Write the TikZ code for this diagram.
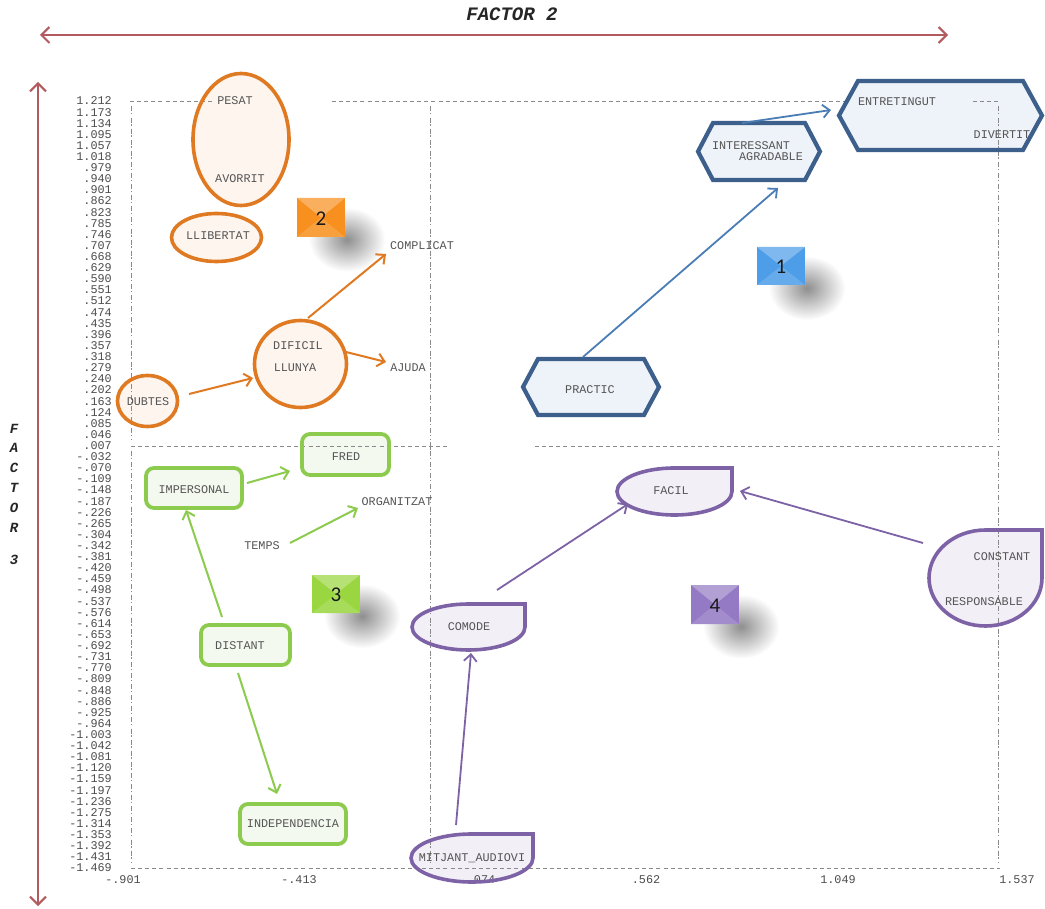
\documentclass[tikz,border=0pt]{standalone}
\usepackage{fontspec}
\setmonofont{Liberation Mono}
\newfontfamily\badgefont{Carlito}
\usetikzlibrary{arrows.meta,fadings}

\definecolor{axisred}{HTML}{B35A5E}
\definecolor{orgline}{HTML}{E07A22}
\definecolor{orgfill}{HTML}{FDF5EE}
\definecolor{orgbadge}{HTML}{F7901E}
\definecolor{bluline}{HTML}{3D5F8C}
\definecolor{blulink}{HTML}{4A7DB5}
\definecolor{blufill}{HTML}{EEF2F9}
\definecolor{blubadge}{HTML}{4D9DE8}
\definecolor{grnline}{HTML}{8DCB4E}
\definecolor{grnfill}{HTML}{F3F9EE}
\definecolor{grnbadge}{HTML}{99D63F}
\definecolor{purline}{HTML}{7D62A6}
\definecolor{purfill}{HTML}{F2EFF7}
\definecolor{purbadge}{HTML}{9479C4}
\definecolor{plotgray}{HTML}{555555}
\definecolor{gridgray}{HTML}{8A8A8A}

\tikzfading[name=softspot, inner color=transparent!20, outer color=transparent!100]

% hexagon: style, x1, y1, x2, y2, chamfer
\newcommand\hexshape[6]{%
  \pgfmathsetmacro\hcy{(#3+#5)/2}%
  \path[#1] (#2,\hcy) -- (#2+#6,#3) -- (#4-#6,#3) -- (#4,\hcy)
            -- (#4-#6,#5) -- (#2+#6,#5) -- cycle;}

% teardrop with a square top-right corner: style, x1, y1, x2, y2
\newcommand\tearshape[5]{%
  \pgfmathsetmacro\tcx{(#2+#4)/2}%
  \pgfmathsetmacro\tcy{(#3+#5)/2}%
  \pgfmathsetmacro\tkx{0.5523*(#4-#2)/2}%
  \pgfmathsetmacro\tky{0.5523*(#5-#3)/2}%
  \path[#1] (\tcx,#3) -- (#4,#3) -- (#4,\tcy)
     .. controls (#4,\tcy+\tky) and (\tcx+\tkx,#5) .. (\tcx,#5)
     .. controls (\tcx-\tkx,#5) and (#2,\tcy+\tky) .. (#2,\tcy)
     .. controls (#2,\tcy-\tky) and (\tcx-\tkx,#3) .. (\tcx,#3) -- cycle;}

% the four groups of outlines: orange, green, blue, purple styles
\newcommand\groupshapes[4]{%
  \path[#1] (241,139.5) ellipse [x radius=48, y radius=66];
  \path[#1] (216.5,237.5) ellipse [x radius=45, y radius=24];
  \path[#1] (300.5,364) ellipse [x radius=46, y radius=43.5];
  \path[#1] (147.5,401) ellipse [x radius=30, y radius=25.5];
  \path[#2] (302,434) rectangle (389,475);
  \path[#2] (146,468) rectangle (242,508);
  \path[#2] (201,625) rectangle (290,665);
  \path[#2] (240,804) rectangle (346,844);
  \hexshape{#3}{523}{359}{659}{415}{15}
  \hexshape{#3}{698}{123}{820}{180}{15}
  \hexshape{#3}{839}{81}{1042}{150}{19}
  \tearshape{#4}{617}{468}{732}{515}
  \tearshape{#4}{412}{604}{525}{650}
  \tearshape{#4}{929}{530}{1042}{626}
  \tearshape{#4}{411}{834}{533}{882}}

% numbered pyramid tile with a soft shadow: name, x1, y1, x2, y2, colour, number
\newcommand\badgebox[7]{%
  \pgfmathsetmacro\bcx{(#2+#4)/2}%
  \pgfmathsetmacro\bcy{(#3+#5)/2}%
  \fill[black!55, path fading=softspot] (\bcx+26,\bcy+22) ellipse [x radius=38, y radius=32];
  \fill[#6] (#2,#3) rectangle (#4,#5);
  \fill[#6!72!white] (#2,#3) -- (#4,#3) -- (\bcx,\bcy) -- cycle;
  \fill[#6!86!white] (#2,#5) -- (#4,#5) -- (\bcx,\bcy) -- cycle;
  \node[badgetext] (#1) at (\bcx,\bcy+1) {#7};}

\begin{document}
\begin{tikzpicture}[x=1pt, y=-1pt,
  lbl/.style={text=plotgray, inner sep=0pt, font=\ttfamily\fontsize{11.8}{12}\selectfont},
  ticklbl/.style={lbl, text=black!70, anchor=east},
  xticklbl/.style={lbl, text=black!70},
  hdash/.style={draw=gridgray, line width=0.7pt, dash pattern=on 4pt off 3.1pt},
  bang/.style={draw=gridgray, line width=0.9pt, dash pattern=on 5pt off 1.6pt on 1.4pt off 3.1pt},
  axis/.style={draw=axisred, line width=2pt,
    {Straight Barb[length=8pt,width=16pt]}-{Straight Barb[length=8pt,width=16pt]}},
  axistitle/.style={inner sep=0pt, text=black!85, font=\ttfamily\bfseries\itshape\fontsize{14}{14}\selectfont},
  badgetext/.style={inner sep=0pt, text=black!90, font=\badgefont\fontsize{21}{21}\selectfont},
  orgfillst/.style={fill=orgfill},
  grnfillst/.style={fill=grnfill, rounded corners=8pt},
  blufillst/.style={fill=blufill},
  purfillst/.style={fill=purfill},
  orgstroke/.style={draw=orgline, line width=3.6pt},
  grnstroke/.style={draw=grnline, line width=3.8pt, rounded corners=8pt},
  blustroke/.style={draw=bluline, line width=4.2pt, line join=miter},
  purstroke/.style={draw=purline, line width=3.6pt, line join=miter},
  link/.style={line width=2pt, -{Straight Barb[length=7pt,width=13pt]}},
]
\useasboundingbox (0,0) rectangle (1045,909);
\fill[white] (0,0) rectangle (1045,909);

% ---- light fills of the groups, under the text plot
\groupshapes{orgfillst}{grnfillst}{blufillst}{purfillst}

% ---- axes and titles
\node[axistitle, font=\ttfamily\bfseries\itshape\fontsize{19}{19}\selectfont] (f2title) at (512,14) {FACTOR 2};
\coordinate (f2l) at (40,35);
\coordinate (f2r) at (948,35);
\draw[axis] (f2l) -- (f2r);
\coordinate (f3t) at (38,82);
\coordinate (f3b) at (38,906);
\draw[axis] (f3t) -- (f3b);
\foreach \ch/\yy [count=\k] in {F/429,A/448,C/468,T/488,O/508,R/528,3/560}
  \node[axistitle] (f3letter\k) at (14,\yy) {\ch};

% ---- text-plot frame
\draw[hdash] (130,101) -- (213,101);
\draw[hdash] (332,101) -- (848,101);
\draw[hdash] (973,101) -- (1000,101);
\draw[hdash] (131,446) -- (447,446);
\draw[hdash] (535,446) -- (1000,446);
\draw[hdash] (131,868) -- (1000,868);
\foreach \xx in {131,430,998} {
  \draw[bang] (\xx,106.5) -- (\xx,440);
  \draw[bang] (\xx,451) -- (\xx,863);
}
\draw[gridgray, line width=0.8pt] (430,442) -- (430,450);

% ---- vertical scale
\foreach \v [count=\i from 0] in {1.212,1.173,1.134,1.095,1.057,1.018,.979,.940,.901,.862,.823,.785,.746,.707,.668,.629,.590,.551,.512,.474,.435,.396,.357,.318,.279,.240,.202,.163,.124,.085,.046,.007,-.032,-.070,-.109,-.148,-.187,-.226,-.265,-.304,-.342,-.381,-.420,-.459,-.498,-.537,-.576,-.614,-.653,-.692,-.731,-.770,-.809,-.848,-.886,-.925,-.964,-1.003,-1.042,-1.081,-1.120,-1.159,-1.197,-1.236,-1.275,-1.314,-1.353,-1.392,-1.431,-1.469}
  \node[ticklbl] (ytick\i) at (112,101+\i*11.116) {\v};

% ---- horizontal scale
\foreach \v/\xx [count=\i] in {-.901/123,-.413/299,.074/481,.562/646,1.049/838,1.537/1017}
  \node[xticklbl] (xtick\i) at (\xx,880) {\v};

% ---- plotted labels
\node[lbl] (pesat) at (235,101) {PESAT};
\node[lbl] (avorrit) at (240,179) {AVORRIT};
\node[lbl] (llibertat) at (218,236) {LLIBERTAT};
\node[lbl] (dificil) at (298,346) {DIFICIL};
\node[lbl] (llunya) at (295,368) {LLUNYA};
\node[lbl] (dubtes) at (148,402) {DUBTES};
\node[lbl] (complicat) at (422,246) {COMPLICAT};
\node[lbl] (ajuda) at (408,368) {AJUDA};
\node[lbl] (fred) at (346,457) {FRED};
\node[lbl] (impersonal) at (194,490) {IMPERSONAL};
\node[lbl] (temps) at (262,546) {TEMPS};
\node[lbl] (organitzat) at (397,502) {ORGANITZAT};
\node[lbl] (distant) at (240,646) {DISTANT};
\node[lbl] (independencia) at (293,824) {INDEPENDENCIA};
\node[lbl] (practic) at (590,390) {PRACTIC};
\node[lbl] (interessant) at (751,146) {INTERESSANT};
\node[lbl] (agradable) at (771,157) {AGRADABLE};
\node[lbl] (entretingut) at (897,102) {ENTRETINGUT};
\node[lbl] (divertit) at (1002,135) {DIVERTIT};
\node[lbl] (facil) at (671,491) {FACIL};
\node[lbl] (comode) at (469,627) {COMODE};
\node[lbl] (constant) at (1002,557) {CONSTANT};
\node[lbl] (responsable) at (984,602) {RESPONSABLE};
\node[lbl] (mitjant) at (472,858) {MITJANT\_AUDIOVI};

% ---- numbered tiles
\badgebox{tile2}{297}{198}{345}{237}{orgbadge}{2}
\badgebox{tile1}{757}{247}{805}{285}{blubadge}{1}
\badgebox{tile3}{312}{575}{360}{613}{grnbadge}{3}
\badgebox{tile4}{691}{585}{739}{624}{purbadge}{4}

% ---- outlines of the groups
\groupshapes{orgstroke}{grnstroke}{blustroke}{purstroke}

% ---- connectors
\coordinate (dubtes-out) at (189,394);   \coordinate (dificil-in) at (253,378);
\coordinate (dificil-up) at (308,318);   \coordinate (complicat-in) at (386,254);
\coordinate (dificil-rt) at (346,352);   \coordinate (ajuda-in) at (386,362);
\draw[link, orgline] (dubtes-out) -- (dificil-in);
\draw[link, orgline] (dificil-up) -- (complicat-in);
\draw[link, orgline] (dificil-rt) -- (ajuda-in);

\coordinate (imp-out) at (247,483);      \coordinate (fred-in) at (290,471);
\coordinate (temps-out) at (290,543);    \coordinate (org-in) at (358,508);
\coordinate (dist-up) at (222,617);      \coordinate (imp-in) at (186,510);
\coordinate (dist-dn) at (238,673);      \coordinate (indep-in) at (277,794);
\draw[link, grnline] (imp-out) -- (fred-in);
\draw[link, grnline] (temps-out) -- (org-in);
\draw[link, grnline] (dist-up) -- (imp-in);
\draw[link, grnline] (dist-dn) -- (indep-in);

\coordinate (prac-out) at (583,357);     \coordinate (inter-in) at (778,188);
\coordinate (inter-out) at (742,123);    \coordinate (entre-in) at (831,110);
\draw[link, blulink, line width=1.8pt] (prac-out) -- (inter-in);
\draw[link, blulink, line width=1.8pt] (inter-out) -- (entre-in);

\coordinate (com-out) at (497,590);      \coordinate (facil-in) at (628,504);
\coordinate (const-out) at (923,543);    \coordinate (facil-in2) at (740,491);
\coordinate (mit-out) at (456,825);      \coordinate (com-in) at (471,653);
\draw[link, purline, line width=1.8pt] (com-out) -- (facil-in);
\draw[link, purline, line width=1.8pt] (const-out) -- (facil-in2);
\draw[link, purline, line width=1.8pt] (mit-out) -- (com-in);
\end{tikzpicture}
\end{document}
